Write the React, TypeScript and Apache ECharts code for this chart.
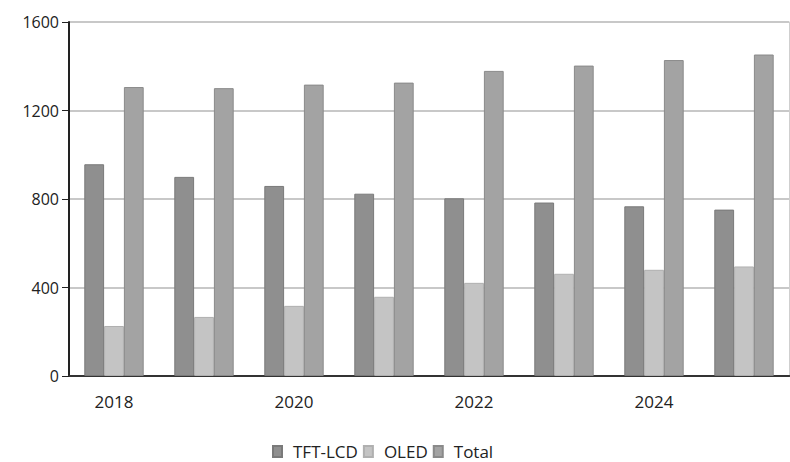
import React, { useEffect, useRef } from "react";
import * as echarts from "echarts";

const years = ["2018", "2019", "2020", "2021", "2022", "2023", "2024", "2025"];
const tftLcd = [957, 900, 859, 824, 803, 784, 767, 752];
const oled = [226, 267, 317, 358, 421, 462, 480, 495];
const total = [1306, 1301, 1317, 1326, 1379, 1403, 1428, 1453];
const yTicks = [0, 400, 800, 1200, 1600];

export default function App() {
  const ref = useRef<HTMLDivElement>(null);
  useEffect(() => {
    if (!ref.current) return;
    const chart = echarts.init(ref.current, null, { renderer: "svg" });
    const font = "'Open Sans', 'Noto Sans', sans-serif";
    chart.setOption({
      animation: false,
      backgroundColor: "#ffffff",
      textStyle: { fontFamily: font },
      grid: { left: 69, right: 1, top: 22, bottom: 86, containLabel: false },
      legend: {
        data: ["TFT-LCD", "OLED", "Total"],
        left: 267,
        top: 438,
        itemWidth: 9,
        itemHeight: 11,
        itemGap: 5,
        icon: "rect",
        textStyle: { fontSize: 17, color: "#222", fontFamily: font, padding: [0, 0, 0, 6] },
      },
      xAxis: [
        {
          type: "category",
          data: years,
          axisLine: { lineStyle: { color: "#222", width: 2 } },
          axisTick: { show: false },
          axisLabel: { interval: 1, color: "#222", fontSize: 17, margin: 17, fontFamily: font },
          splitLine: { show: false },
        },
        {
          type: "category",
          data: years,
          position: "top",
          axisLine: { lineStyle: { color: "#333", width: 2 } },
          axisTick: { show: false },
          axisLabel: { show: false },
        },
      ],
      yAxis: [
        {
          type: "value",
          min: yTicks[0],
          max: yTicks[yTicks.length - 1],
          interval: 400,
          axisLine: { show: true, lineStyle: { color: "#222", width: 2 } },
          axisTick: { show: true, length: 7, lineStyle: { color: "#222", width: 1 } },
          axisLabel: {
            color: "#222",
            fontSize: 16,
            margin: 10,
            fontFamily: font,
            formatter: (v: number) => String(v),
          },
          splitLine: { lineStyle: { color: "#c8c8c8", width: 2 } },
        },
        {
          type: "value",
          min: yTicks[0],
          max: yTicks[yTicks.length - 1],
          interval: 400,
          position: "right",
          axisLine: { show: true, lineStyle: { color: "#cfcfcf", width: 1 } },
          axisTick: { show: false },
          axisLabel: { show: false },
          splitLine: { show: false },
        },
      ],
      series: [
        {
          name: "TFT-LCD",
          type: "bar",
          data: tftLcd,
          barGap: "0%",
          barCategoryGap: "34%",
          itemStyle: { color: "#8f8f8f", borderColor: "#7a7a7a", borderWidth: 1 },
        },
        {
          name: "OLED",
          type: "bar",
          data: oled,
          itemStyle: { color: "#c4c4c4", borderColor: "#b0b0b0", borderWidth: 1 },
        },
        {
          name: "Total",
          type: "bar",
          data: total,
          itemStyle: { color: "#a3a3a3", borderColor: "#8a8a8a", borderWidth: 1 },
        },
      ],
    });
    return () => chart.dispose();
  }, []);
  return <div ref={ref} style={{ width: 790, height: 462, position: "absolute", left: 0, top: 0 }} />;
}
